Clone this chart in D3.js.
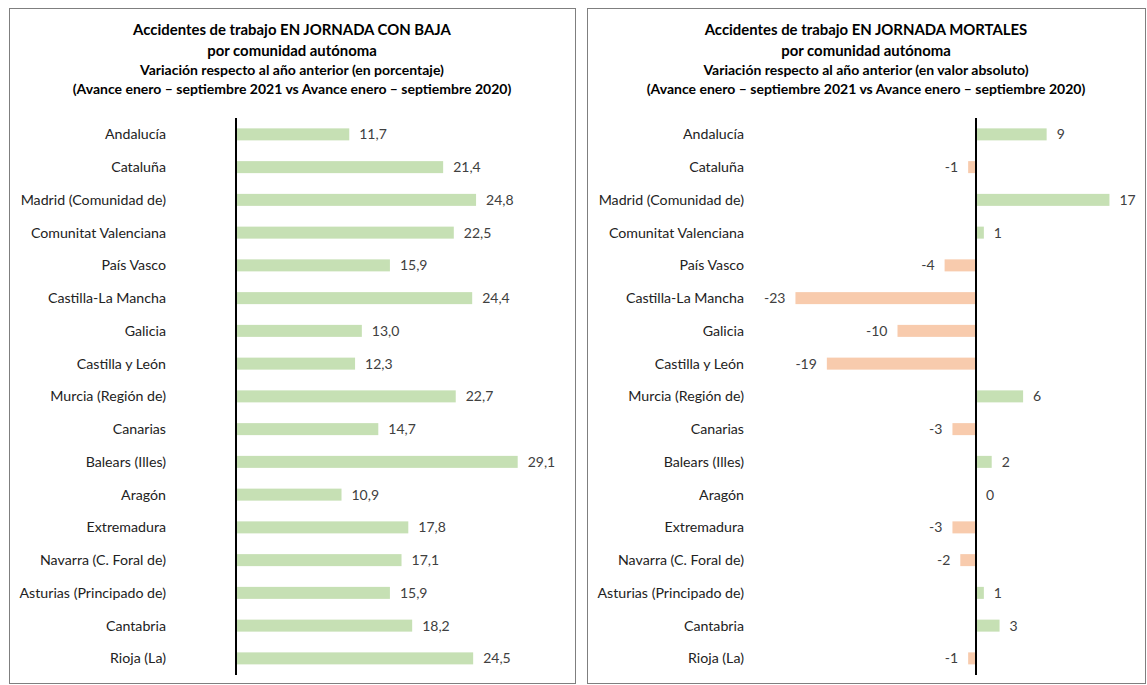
<!DOCTYPE html>
<html>
<head>
<meta charset="utf-8">
<script src="https://cdn.jsdelivr.net/npm/d3@7"></script>
<style>
  body { margin: 0; background: #fff; }
  svg { display: block; font-family: Lato, "Liberation Sans", sans-serif; }
  .title { font-weight: bold; fill: #000; text-anchor: middle; }
  .cat { fill: #222; font-size: 14.2px; text-anchor: end; }
  .val { fill: #404040; font-size: 14px; }
</style>
</head>
<body>
<svg id="chart" width="1147" height="685"></svg>
<script>
// categories, top to bottom
const regions = [
    "Andalucía", "Cataluña", "Madrid (Comunidad de)", "Comunitat Valenciana",
    "País Vasco", "Castilla-La Mancha", "Galicia", "Castilla y León",
    "Murcia (Región de)", "Canarias", "Balears (Illes)", "Aragón",
    "Extremadura", "Navarra (C. Foral de)", "Asturias (Principado de)",
    "Cantabria", "Rioja (La)"
];

// variación % accidentes con baja
const conBaja = [11.7, 21.4, 24.8, 22.5, 15.9, 24.4, 13.0, 12.3, 22.7, 14.7, 29.1, 10.9, 17.8, 17.1, 15.9, 18.2, 24.5];

// variación absoluta accidentes mortales
const mortales = [9, -1, 17, 1, -4, -23, -10, -19, 6, -3, 2, 0, -3, -2, 1, 3, -1];

const titlesLeft = [
    "Accidentes de trabajo EN JORNADA CON BAJA",
    "por comunidad autónoma",
    "Variación respecto al año anterior (en porcentaje)",
    "(Avance enero – septiembre 2021 vs Avance enero – septiembre 2020)"
];
const titlesRight = [
    "Accidentes de trabajo EN JORNADA MORTALES",
    "por comunidad autónoma",
    "Variación respecto al año anterior (en valor absoluto)",
    "(Avance enero – septiembre 2021 vs Avance enero – septiembre 2020)"
];

const esLocale = d3.formatLocale({decimal: ",", thousands: ".", grouping: [3], currency: ["", " €"], minus: "-"});
const fmt1 = esLocale.format(".1f");
const fmt0 = esLocale.format("d");

const svg = d3.select("#chart");

/**
 * one panel: border, titles, labels and bars
 */
function drawPanel(opts) {
    const g = svg.append("g").attr("class", "panel");

    // frame
    g.append("rect")
        .attr("x", opts.box[0] + 0.5).attr("y", opts.box[1] + 0.5)
        .attr("width", opts.box[2]).attr("height", opts.box[3])
        .attr("fill", "none").attr("stroke", "#7f7f7f").attr("stroke-width", 1);

    // titles
    const cx = opts.box[0] + opts.box[2] / 2;
    const tY = [35, 56, 75, 94];
    const tSize = [14.9, 14.9, 14, 14];
    opts.titles.forEach((t, i) => {
        g.append("text").attr("class", "title")
            .attr("x", cx).attr("y", tY[i])
            .style("font-size", tSize[i] + "px")
            .text(t);
    });

    const y = d3.scaleBand()
        .domain(regions)
        .range([118, 118 + regions.length * 32.75]);
    const barH = 12;

    const x = d3.scaleLinear().domain(opts.domain).range(opts.range);

    // category labels
    g.selectAll("text.cat")
        .data(regions)
        .join("text")
        .attr("class", "cat")
        .attr("x", opts.labelX)
        .attr("y", d => y(d) + y.bandwidth() / 2)
        .attr("dy", "0.35em")
        .text(d => d);

    const data = regions.map((r, i) => ({region: r, value: opts.values[i]}));

    // bars
    g.selectAll("rect.bar")
        .data(data)
        .join("rect")
        .attr("class", "bar")
        .attr("x", d => x(Math.min(0, d.value)))
        .attr("y", d => y(d.region) + (y.bandwidth() - barH) / 2)
        .attr("width", d => Math.abs(x(d.value) - x(0)))
        .attr("height", barH)
        .attr("fill", d => d.value < 0 ? "#f8cbad" : "#c6e0b4");

    // value labels
    g.selectAll("text.val")
        .data(data)
        .join("text")
        .attr("class", "val")
        .attr("x", d => d.value < 0 ? x(d.value) - 10 : x(d.value) + 10)
        .attr("y", d => y(d.region) + y.bandwidth() / 2)
        .attr("dy", "0.35em")
        .style("text-anchor", d => d.value < 0 ? "end" : "start")
        .text(d => opts.format(d.value));

    // zero axis
    g.append("line")
        .attr("x1", x(0)).attr("x2", x(0))
        .attr("y1", 118).attr("y2", 675)
        .attr("stroke", "#000").attr("stroke-width", 2);
}

drawPanel({
    box: [9, 8, 566, 675],
    titles: titlesLeft,
    values: conBaja,
    domain: [0, 30],
    range: [236, 236 + 30 * 9.68],
    labelX: 166,
    format: fmt1
});

drawPanel({
    box: [587, 8, 558, 675],
    titles: titlesRight,
    values: mortales,
    domain: [-25, 20],
    range: [976 - 25 * 7.85, 976 + 20 * 7.85],
    labelX: 744,
    format: fmt0
});
</script>
</body>
</html>
